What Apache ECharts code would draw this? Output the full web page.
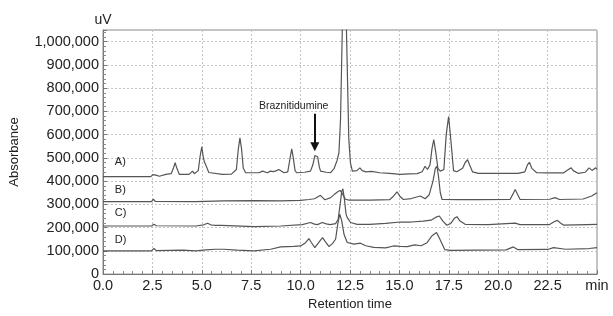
<!DOCTYPE html>
<html>
<head>
<meta charset="utf-8">
<script src="https://cdn.jsdelivr.net/npm/echarts@6/dist/echarts.min.js"></script>
<style>
html,body{margin:0;padding:0;background:#fff;}
#chart{width:613px;height:316px;}
</style>
</head>
<body>
<div id="chart"></div>
<script>
// Retention time (min), absorbance in thousands of uV
var traceA = [
[0,419],[2.42,419],[2.52,428],[2.59,433],[2.68,426],[2.85,421],[3.18,429],[3.45,432],[3.56,455],[3.65,479],[3.74,455],[3.86,429],[4.36,429],[4.45,436],[4.53,443],[4.62,432],[4.7,429],[4.82,445],[4.92,510],[5.0,547],[5.08,500],[5.13,483],[5.17,481],[5.25,460],[5.35,437],[5.45,429],[6.04,429],[6.5,430],[6.75,450],[6.85,540],[6.93,586],[7.01,540],[7.1,455],[7.22,436],[7.9,436],[8.0,441],[8.07,443],[8.15,438],[8.32,436],[8.4,440],[8.48,443],[8.6,441],[8.75,444],[8.9,450],[9.0,442],[9.16,436],[9.35,440],[9.47,500],[9.55,539],[9.63,500],[9.72,445],[9.8,436],[10.2,438],[10.5,443],[10.62,470],[10.72,510],[10.79,517],[10.86,505],[10.95,460],[11.01,443],[11.3,438],[11.52,436],[11.7,455],[11.85,490],[11.94,522],[12.02,664],[12.11,1050],[12.21,1600],[12.32,1050],[12.44,579],[12.52,480],[12.62,443],[12.85,445],[13.0,457],[13.12,445],[13.3,440],[13.6,442],[14.0,436],[14.5,433],[15.05,429],[15.5,431],[15.9,432],[16.15,440],[16.3,464],[16.42,450],[16.55,470],[16.65,540],[16.74,579],[16.83,530],[16.95,455],[17.07,443],[17.25,450],[17.37,600],[17.49,678],[17.6,580],[17.74,445],[17.9,440],[18.2,455],[18.33,480],[18.45,492],[18.55,470],[18.7,440],[19.0,433],[20.0,433],[21.0,433],[21.35,440],[21.48,470],[21.58,481],[21.7,455],[21.95,436],[22.5,435],[23.3,435],[23.55,450],[23.69,457],[23.8,445],[24.06,433],[24.4,438],[24.6,457],[24.75,446],[24.93,457],[25,452]
];
var traceB = [
[0,312],[2.45,312],[2.55,322],[2.65,313],[4.7,312],[6.1,315],[7.64,316],[9.0,315],[10.0,317],[10.42,321],[10.7,324],[10.88,333],[11.0,339],[11.1,330],[11.23,320],[11.5,328],[11.7,342],[11.88,354],[12.0,360],[12.12,345],[12.27,322],[12.45,318],[13.5,318],[14.5,320],[14.7,335],[14.88,354],[15.02,335],[15.2,321],[15.6,325],[16.06,336],[16.3,324],[16.5,340],[16.7,400],[16.82,455],[16.9,464],[16.98,420],[17.07,350],[17.16,321],[18,320],[19,320],[20.6,321],[20.75,345],[20.86,364],[20.97,345],[21.11,321],[22.6,322],[22.88,329],[23.1,321],[24.3,323],[24.73,336],[25,350]
];
var traceC = [
[0,207],[2.45,207],[2.58,214],[2.7,208],[4.7,207],[5.1,212],[5.29,219],[5.45,212],[5.62,210],[6,210],[7.64,204],[9.0,207],[10.08,213],[10.5,222],[10.7,215],[10.85,213],[11.1,222],[11.3,216],[11.5,213],[11.77,217],[11.9,235],[12.0,300],[12.08,355],[12.14,367],[12.22,320],[12.3,258],[12.36,243],[12.53,222],[12.86,214],[13.5,214],[14.3,218],[15.05,224],[15.6,224],[16.2,228],[16.6,232],[16.85,245],[17.02,250],[17.2,228],[17.4,210],[17.6,218],[17.78,240],[17.91,247],[18.05,230],[18.33,214],[19.5,213],[20.86,219],[21.1,213],[22.6,213],[22.85,226],[23.0,231],[23.15,220],[23.3,211],[24.5,213],[25,214]
];
var traceD = [
[0,100],[2.45,100],[2.58,110],[2.7,101],[4.02,103],[4.7,100],[5.2,104],[5.7,107],[6.1,107],[6.8,103],[7.64,100],[8.48,107],[8.99,117],[9.66,119],[10.0,121],[10.25,135],[10.42,153],[10.55,135],[10.72,114],[10.95,140],[11.11,157],[11.25,140],[11.43,119],[11.6,130],[11.77,150],[11.88,215],[11.98,258],[12.08,230],[12.2,170],[12.36,136],[12.7,129],[13.03,133],[13.3,122],[13.7,115],[14.3,113],[14.7,121],[15.05,119],[15.4,118],[15.77,126],[16.1,122],[16.4,135],[16.65,165],[16.88,179],[17.05,150],[17.3,105],[17.6,102],[19,103],[20.4,104],[20.77,117],[21.0,105],[22.5,106],[22.8,114],[23.4,107],[24.6,110],[25,114]
];
var traceNames = ['A)', 'B)', 'C)', 'D)'];
var traceLabelPos = [[0.6, 483], [0.6, 360], [0.6, 264], [0.6, 146]]; // [min, thousand uV]
var annotationText = 'Braznitidumine';
var annotationLabelPos = [9.65, 724];
var arrowFrom = [10.72, 690];
var arrowTo = [10.72, 548];
var xTickLabels = ['0.0','2.5','5.0','7.5','10.0','12.5','15.0','17.5','20.0','22.5','min'];
var yTickLabels = ['0','100,000','200,000','300,000','400,000','500,000','600,000','700,000','800,000','900,000','1,000,000'];

var K = 1000;
function scale(arr){ return arr.map(function(p){ return [p[0], p[1]*K]; }); }
var traces = [traceA, traceB, traceC, traceD];
var FONT = 'Liberation Sans, Arial, sans-serif';

var series = traces.map(function(tr, i){
  var s = {
    type: 'line',
    data: scale(tr),
    showSymbol: false,
    symbol: 'none',
    clip: true,
    lineStyle: { color: '#555', width: 1.2 },
    z: 5 - i,
    markPoint: {
      symbol: 'circle', symbolSize: 0, silent: true,
      data: [{ coord: [traceLabelPos[i][0], traceLabelPos[i][1]*K], value: traceNames[i] }],
      label: { show: true, position: 'right', distance: 0, formatter: traceNames[i], color: '#222', fontSize: 11, fontFamily: FONT }
    }
  };
  if (i === 0) {
    s.markPoint.data.push({ coord: [annotationLabelPos[0], annotationLabelPos[1]*K], value: annotationText,
      label: { show: true, position: 'inside', formatter: annotationText, color: '#222', fontSize: 10.5, fontFamily: FONT } });
    s.markPoint.label.formatter = function(p){ return p.value; };
    s.markLine = {
      silent: true,
      symbol: ['none', 'triangle'],
      symbolSize: 9,
      symbolOffset: [0, 0],
      label: { show: false },
      lineStyle: { color: '#111', width: 2, type: 'solid' },
      data: [[ { coord: [arrowFrom[0], arrowFrom[1]*K] }, { coord: [arrowTo[0], arrowTo[1]*K] } ]]
    };
  }
  return s;
});

var chart = echarts.init(document.getElementById('chart'), null, { renderer: 'canvas' });
chart.setOption({
  animation: false,
  backgroundColor: '#fff',
  grid: { left: 102, right: 16, top: 30, bottom: 41, show: true, borderColor: '#888', borderWidth: 1, backgroundColor: 'transparent' },
  xAxis: {
    type: 'value', min: 0, max: 25, interval: 2.5,
    name: 'Retention time', nameLocation: 'middle', nameGap: 22,
    nameTextStyle: { color: '#222', fontSize: 13, fontFamily: FONT },
    axisLine: { show: true, lineStyle: { color: '#777' } },
    axisTick: { show: true, inside: true, length: 4, lineStyle: { color: '#777' } },
    minorTick: { show: true, splitNumber: 5, length: 3, lineStyle: { color: '#888' } },
    splitLine: { show: true, lineStyle: { color: '#c4c4c4', type: [2, 2], width: 1 } },
    axisLabel: { color: '#222', fontSize: 14.5, fontFamily: FONT, margin: 4,
      formatter: function(v){ var idx = Math.round(v/2.5); return xTickLabels[idx] || ''; } }
  },
  yAxis: [{
    type: 'value', min: 0, max: 1050000, interval: 100000,
    name: 'Absorbance', nameLocation: 'middle', nameGap: 82, nameRotate: 90,
    nameTextStyle: { color: '#222', fontSize: 13, fontFamily: FONT },
    axisLine: { show: true, lineStyle: { color: '#777' } },
    axisTick: { show: true, inside: true, length: 4, lineStyle: { color: '#777' } },
    minorTick: { show: true, splitNumber: 5, length: 3, lineStyle: { color: '#888' } },
    splitLine: { show: true, lineStyle: { color: '#c4c4c4', type: [2, 2], width: 1 } },
    axisLabel: { color: '#222', fontSize: 14.5, fontFamily: FONT, margin: 4, showMaxLabel: false,
      formatter: function(v){ if (v % 100000 !== 0) return ''; return yTickLabels[v/100000] || ''; } }
  }, {
    type: 'value', min: 0, max: 1050000, position: 'left',
    name: 'uV', nameLocation: 'end', nameGap: 3,
    nameTextStyle: { color: '#222', fontSize: 14, fontFamily: FONT, align: 'center' },
    axisLine: { show: false }, axisTick: { show: false }, axisLabel: { show: false }, splitLine: { show: false }
  }],
  series: series
});
</script>
</body>
</html>
